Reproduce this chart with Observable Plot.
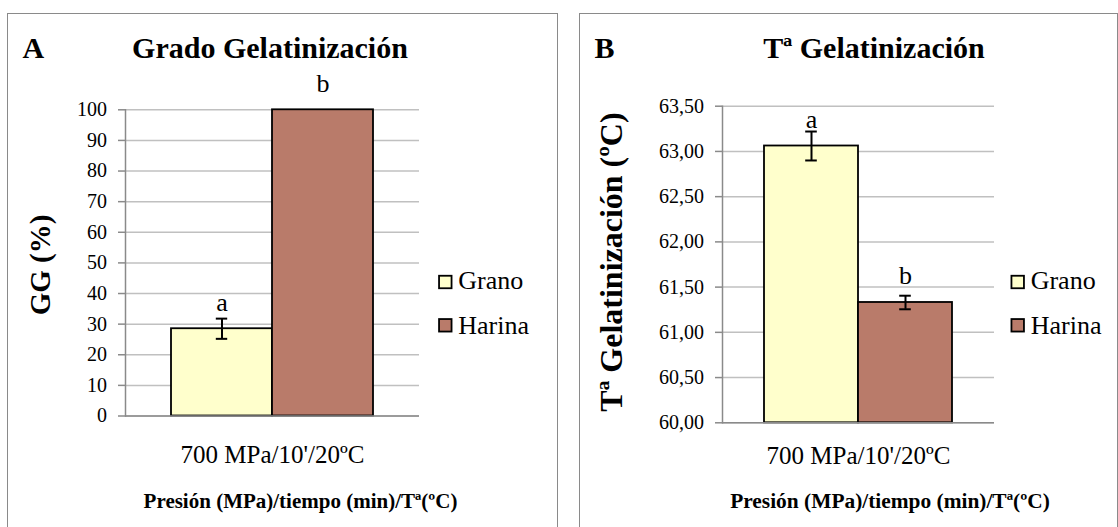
<!DOCTYPE html>
<html><head><meta charset="utf-8">
<script src="https://cdn.jsdelivr.net/npm/d3@7"></script>
<script src="https://cdn.jsdelivr.net/npm/@observablehq/plot@0.6"></script>
<style>
body{margin:0;background:#fff;}
#wrap{position:relative;width:1118px;height:527px;overflow:hidden;background:#fff;}
.panel{position:absolute;border:1.5px solid #8a8a8a;box-sizing:border-box;}
.plotbox{position:absolute;top:0;}
#overlay{position:absolute;left:0;top:0;}
</style></head><body>
<div id="wrap">
  <div class="panel" style="left:7px;top:13px;width:551px;height:540px"></div>
  <div class="panel" style="left:579px;top:13px;width:539px;height:540px"></div>
  <div class="plotbox" id="pa" style="left:0px"></div>
  <div class="plotbox" id="pb" style="left:560px"></div>
</div>
<script>
// ---- data ----
const series = ["Grano", "Harina"];
const categories = ["700 MPa/10'/20ºC"];
const seriesColors = ["#FFFFCC", "#B97B6A"];
const gradoValues = [28.5, 100];
const gradoErrors = [3.3, 0];
const gradoLetters = ["a", "b"];
const gradoTicks = [0, 10, 20, 30, 40, 50, 60, 70, 80, 90, 100];
const tempValues = [63.06, 61.33];
const tempErrors = [0.16, 0.075];
const tempLetters = ["a", "b"];
const tempTicks = [60, 60.5, 61, 61.5, 62, 62.5, 63, 63.5];

const FONT = "'Liberation Serif','Times New Roman','DejaVu Serif',serif";

function rows(values, errors, letters) {
  return series.map((s, i) => ({category: categories[0], series: s, value: values[i], err: errors[i], letter: letters[i]}));
}

function panel({data, domain, ticks, fmt, width, mL, mR, mT, mB, pad, capInset, fxPad}) {
  const base = domain[0];
  const errs = data.filter(d => d.err > 0);
  return Plot.plot({
    width, height: 527,
    marginLeft: mL, marginRight: mR, marginTop: mT, marginBottom: mB,
    style: {fontFamily: FONT, background: "transparent", color: "#000", overflow: "visible"},
    fx: {domain: categories, padding: 0, label: null},
    x: {domain: series, paddingInner: 0, paddingOuter: pad, axis: null},
    y: {domain, label: null},
    color: {domain: series, range: seriesColors},
    marks: [
      Plot.gridY(ticks, {stroke: "#c0c0c0", strokeOpacity: 1, strokeWidth: 1.5}),
      Plot.barY(data, {fx: "category", x: "series", y1: () => base, y2: "value", fill: "series", stroke: "#000", strokeWidth: 1.8}),
      Plot.ruleX(errs, {fx: "category", x: "series", y1: d => d.value - d.err, y2: d => d.value + d.err, stroke: "#000", strokeWidth: 2}),
      Plot.tickY(errs, {fx: "category", x: "series", y: d => d.value + d.err, insetLeft: capInset, insetRight: capInset, stroke: "#000", strokeWidth: 2}),
      Plot.tickY(errs, {fx: "category", x: "series", y: d => d.value - d.err, insetLeft: capInset, insetRight: capInset, stroke: "#000", strokeWidth: 2}),
      Plot.text(data, {fx: "category", x: "series", y: "value", text: "letter", lineAnchor: "bottom", dy: -18, fontSize: 26, fill: "#000"}),
      Plot.ruleY([base], {stroke: "#8a8a8a", strokeWidth: 1.5}),
      Plot.frame({anchor: "left", stroke: "#8a8a8a", strokeWidth: 1.5}),
      Plot.axisY(ticks, {tickSize: 7, tickPadding: 11.5, fontSize: 20, tickFormat: fmt, stroke: "#8a8a8a", strokeWidth: 1.5, label: null, fill: "#000"}),
      Plot.axisFx({anchor: "bottom", fontSize: 25, tickSize: 0, tickPadding: fxPad, label: null, fill: "#000"})
    ]
  });
}

const pa = panel({
  data: rows(gradoValues, gradoErrors, gradoLetters),
  domain: [0, 100], ticks: gradoTicks, fmt: d => String(d),
  width: 560, mL: 125, mR: 140.4, mT: 109.3, mB: 111.5, pad: 0.451, capInset: 44.8, fxPad: 29
});
document.getElementById("pa").appendChild(pa);

const pb = panel({
  data: rows(tempValues, tempErrors, tempLetters),
  domain: [60, 63.5], ticks: tempTicks, fmt: d => d.toFixed(2).replace(".", ","),
  width: 558, mL: 162, mR: 123.4, mT: 105.7, mB: 104.7, pad: 0.445, capInset: 41.2, fxPad: 23
});
document.getElementById("pb").appendChild(pb);

// ---- titles, axis titles, legends ----
const ov = d3.select("#wrap").append("svg").attr("id", "overlay")
  .attr("width", 1118).attr("height", 527)
  .style("font-family", FONT).style("pointer-events", "none");

function txt(x, y, s, size, bold, anchor, rot) {
  const t = ov.append("text").attr("x", x).attr("y", y).text(s)
    .attr("font-size", size).attr("font-weight", bold ? "bold" : "normal")
    .attr("text-anchor", anchor || "start").attr("fill", "#000");
  if (rot) t.attr("transform", `rotate(-90 ${x} ${y})`);
  return t;
}
const panelLetters = ["A", "B"];
const titles = ["Grado Gelatinización", "Tª Gelatinización"];
const yTitles = ["GG (%)", "Tª Gelatinización (ºC)"];
const xTitle = "Presión (MPa)/tiempo (min)/Tª(ºC)";

txt(22.5, 58.3, panelLetters[0], 30, true);
txt(270, 58.3, titles[0], 30, true, "middle");
txt(594.5, 58.3, panelLetters[1], 30, true);
txt(874, 58.3, titles[1], 30, true, "middle");

txt(49.5, 265, yTitles[0], 29, true, "middle", true);
txt(622, 262, yTitles[1], 32, true, "middle", true);

txt(300.5, 508, xTitle, 21, true, "middle");
txt(890, 508, xTitle, 21.4, true, "middle");

const legendX = [438.3, 1010.7];
const legendY = [275, 318.3];
const legendBaseline = [289.3, 334];
legendX.forEach(lx => {
  series.forEach((s, i) => {
    ov.append("rect").attr("x", lx + 0.75).attr("y", legendY[i] + 0.75)
      .attr("width", 12.5).attr("height", 12.5)
      .attr("fill", seriesColors[i]).attr("stroke", "#000").attr("stroke-width", 1.8);
    txt(lx + 20, legendBaseline[i], s, 26, false);
  });
});
</script>
</body></html>
